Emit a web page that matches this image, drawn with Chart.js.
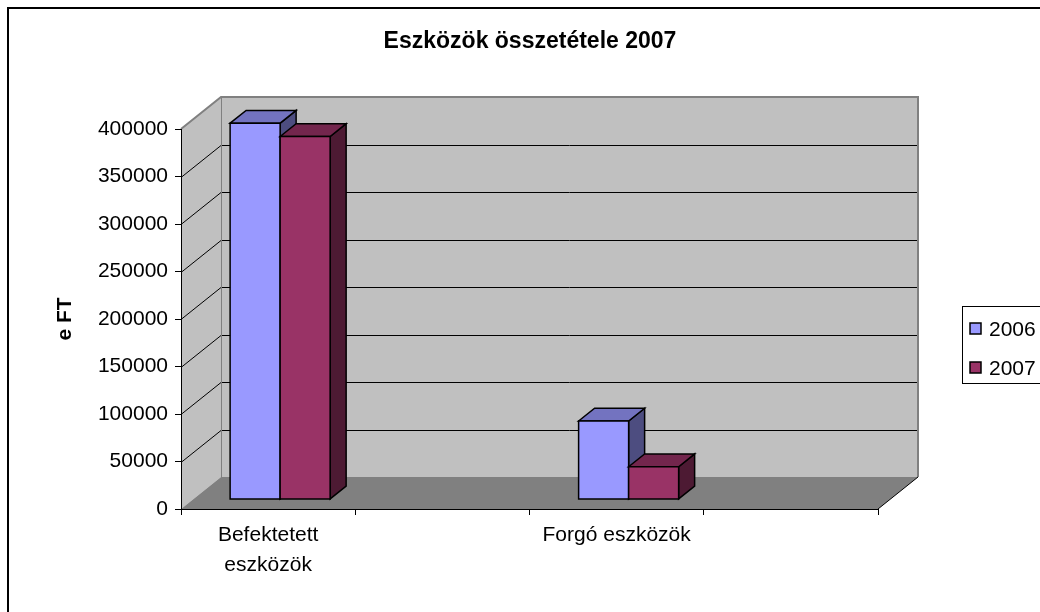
<!DOCTYPE html>
<html>
<head>
<meta charset="utf-8">
<script src="https://cdn.jsdelivr.net/npm/chart.js@4.4.1/dist/chart.umd.min.js"></script>
<style>
body { margin: 0; background: #fff; }
#wrap { width: 1040px; height: 612px; position: relative; }
</style>
</head>
<body>
<div id="wrap"><canvas id="chart"></canvas></div>
<script>
const categories = [['Befektetett', 'eszközök'], '', 'Forgó eszközök', ''];
const seriesNames = ['2006', '2007'];
const values2006 = [396000, null, 82500, null];
const values2007 = [382000, null, 34400, null];
const yMax = 400000;
const yStep = 50000;

const FONT = "'Liberation Sans', Arial, sans-serif";
const DEPTH_X = 40, DEPTH_Y = -32;
const BAR_FRONT = 0.3, BAR_BACK = 0.7;

const faceColors = [
    { front: '#9999ff', top: '#7373c0', side: '#4d4d80' },
    { front: '#993366', top: '#73264d', side: '#4d1a33' }
];

function poly(ctx, pts) {
    ctx.beginPath();
    ctx.moveTo(pts[0][0], pts[0][1]);
    for (let i = 1; i < pts.length; i++) ctx.lineTo(pts[i][0], pts[i][1]);
    ctx.closePath();
}

/* ==============================
   3D WALLS, BARS, LEGEND
================================= */

const box3d = {
    id: 'box3d',

    beforeDraw(chart) {
        const { ctx, chartArea: a, scales: { y } } = chart;
        const dx = DEPTH_X, dy = DEPTH_Y;
        ctx.save();

        // outer frame
        ctx.strokeStyle = '#000';
        ctx.lineWidth = 2;
        ctx.strokeRect(8, 8, 1080, 660);

        // side wall + back wall
        ctx.fillStyle = '#c0c0c0';
        poly(ctx, [[a.left, a.top], [a.left + dx, a.top + dy], [a.left + dx, a.bottom + dy], [a.left, a.bottom]]);
        ctx.fill();
        ctx.fillRect(a.left + dx, a.top + dy, a.right - a.left, a.bottom - a.top);

        // floor
        ctx.fillStyle = '#808080';
        poly(ctx, [[a.left, a.bottom], [a.left + dx, a.bottom + dy], [a.right + dx, a.bottom + dy], [a.right, a.bottom]]);
        ctx.fill();

        // grid lines on walls
        ctx.strokeStyle = '#000';
        ctx.lineWidth = 1;
        y.ticks.forEach(t => {
            if (t.value <= 0 || t.value >= yMax) return;
            const py = Math.round(y.getPixelForValue(t.value)) + 0.5;
            ctx.beginPath();
            ctx.moveTo(a.left, py);
            ctx.lineTo(a.left + dx, py + dy);
            ctx.lineTo(a.right + dx, py + dy);
            ctx.stroke();
        });

        // wall edges
        ctx.strokeStyle = '#808080';
        ctx.lineWidth = 2;
        ctx.beginPath();
        ctx.moveTo(a.left, a.top);
        ctx.lineTo(a.left + dx, a.top + dy);
        ctx.lineTo(a.right + dx, a.top + dy);
        ctx.lineTo(a.right + dx, a.bottom + dy);
        ctx.stroke();
        ctx.lineWidth = 1;
        ctx.beginPath();
        ctx.moveTo(a.left + dx + 0.5, a.top + dy);
        ctx.lineTo(a.left + dx + 0.5, a.bottom + dy);
        ctx.moveTo(a.left + dx, a.bottom + dy + 0.5);
        ctx.lineTo(a.right + dx, a.bottom + dy + 0.5);
        ctx.stroke();

        ctx.strokeStyle = '#000';
        ctx.beginPath();
        ctx.moveTo(a.right, a.bottom);
        ctx.lineTo(a.right + dx, a.bottom + dy);
        ctx.stroke();

        ctx.restore();
    },

    beforeDatasetsDraw(chart) {
        const ctx = chart.ctx;
        const list = [];
        chart.data.datasets.forEach((ds, di) => {
            chart.getDatasetMeta(di).data.forEach((bar, i) => {
                if (ds.data[i] == null) return;
                list.push({ bar, di });
            });
        });
        list.sort((p, q) => p.bar.x - q.bar.x);

        const ddx = DEPTH_X * (BAR_BACK - BAR_FRONT);
        const ddy = DEPTH_Y * (BAR_BACK - BAR_FRONT);

        ctx.save();
        ctx.strokeStyle = '#000';
        ctx.lineWidth = 1.5;
        ctx.lineJoin = 'miter';
        list.forEach(({ bar, di }) => {
            const { x, y, base, width } = bar.getProps(['x', 'y', 'base', 'width'], true);
            const c = faceColors[di];
            const l = x - width / 2 + DEPTH_X * BAR_FRONT;
            const r = l + width;
            const t = y + DEPTH_Y * BAR_FRONT;
            const b = base + DEPTH_Y * BAR_FRONT;

            ctx.fillStyle = c.side;
            poly(ctx, [[r, t], [r + ddx, t + ddy], [r + ddx, b + ddy], [r, b]]);
            ctx.fill(); ctx.stroke();

            ctx.fillStyle = c.top;
            poly(ctx, [[l, t], [l + ddx, t + ddy], [r + ddx, t + ddy], [r, t]]);
            ctx.fill(); ctx.stroke();

            ctx.fillStyle = c.front;
            poly(ctx, [[l, t], [r, t], [r, b], [l, b]]);
            ctx.fill(); ctx.stroke();
        });
        ctx.restore();
        return false;
    },

    afterDraw(chart) {
        const ctx = chart.ctx;
        ctx.save();
        ctx.fillStyle = '#fff';
        ctx.fillRect(962, 306, 100, 77);
        ctx.strokeStyle = '#000';
        ctx.lineWidth = 1;
        ctx.strokeRect(962.5, 306.5, 100, 77);

        ctx.font = '21px ' + FONT;
        ctx.textBaseline = 'middle';
        ctx.textAlign = 'left';
        chart.data.datasets.forEach((ds, i) => {
            const cy = 329 + i * 39;
            ctx.fillStyle = faceColors[i].front;
            ctx.fillRect(970, cy - 6, 11, 11);
            ctx.strokeStyle = '#000';
            ctx.lineWidth = 1.5;
            ctx.strokeRect(970, cy - 6, 11, 11);
            ctx.fillStyle = '#000';
            ctx.fillText(ds.label, 989, cy + 1);
        });
        ctx.restore();
    }
};

new Chart(document.getElementById('chart'), {
    type: 'bar',
    data: {
        labels: categories,
        datasets: [
            { label: seriesNames[0], data: values2006, backgroundColor: faceColors[0].front,
              categoryPercentage: 0.574, barPercentage: 1 },
            { label: seriesNames[1], data: values2007, backgroundColor: faceColors[1].front,
              categoryPercentage: 0.574, barPercentage: 1 }
        ]
    },
    options: {
        responsive: true,
        maintainAspectRatio: false,
        animation: false,
        layout: { padding: { left: 20, right: 0, top: 0, bottom: 0 } },
        plugins: {
            legend: { display: false },
            tooltip: { enabled: false },
            title: {
                display: true,
                text: 'Eszközök összetétele 2007',
                color: '#000',
                font: { family: FONT, size: 23, weight: 'bold' },
                padding: { top: 28.2, bottom: 73.2 }
            }
        },
        scales: {
            x: {
                ticks: {
                    color: '#000',
                    font: { family: FONT, size: 21, lineHeight: 1.4 },
                    padding: 6,
                    maxRotation: 0,
                    autoSkip: false
                },
                grid: { drawOnChartArea: false, color: '#000', tickColor: '#000', tickLength: 6, offset: true },
                border: { color: '#000', width: 1 },
                afterFit(s) { s.height = 103; }
            },
            y: {
                min: 0,
                max: yMax,
                ticks: {
                    stepSize: yStep,
                    color: '#000',
                    font: { family: FONT, size: 21 },
                    padding: 7,
                    callback: v => String(v)
                },
                grid: { drawOnChartArea: false, color: '#000', tickColor: '#000', tickLength: 6 },
                border: { color: '#000', width: 1 },
                title: {
                    display: true,
                    text: 'e FT',
                    color: '#000',
                    font: { family: FONT, size: 21, weight: 'bold' },
                    padding: { top: 33, bottom: 0 }
                },
                afterFit(s) { s.width = 161; }
            },
            y2: {
                position: 'right',
                display: true,
                ticks: { display: false },
                grid: { display: false },
                border: { display: false },
                afterFit(s) { s.width = 162; }
            }
        }
    },
    plugins: [box3d]
});
</script>
</body>
</html>
